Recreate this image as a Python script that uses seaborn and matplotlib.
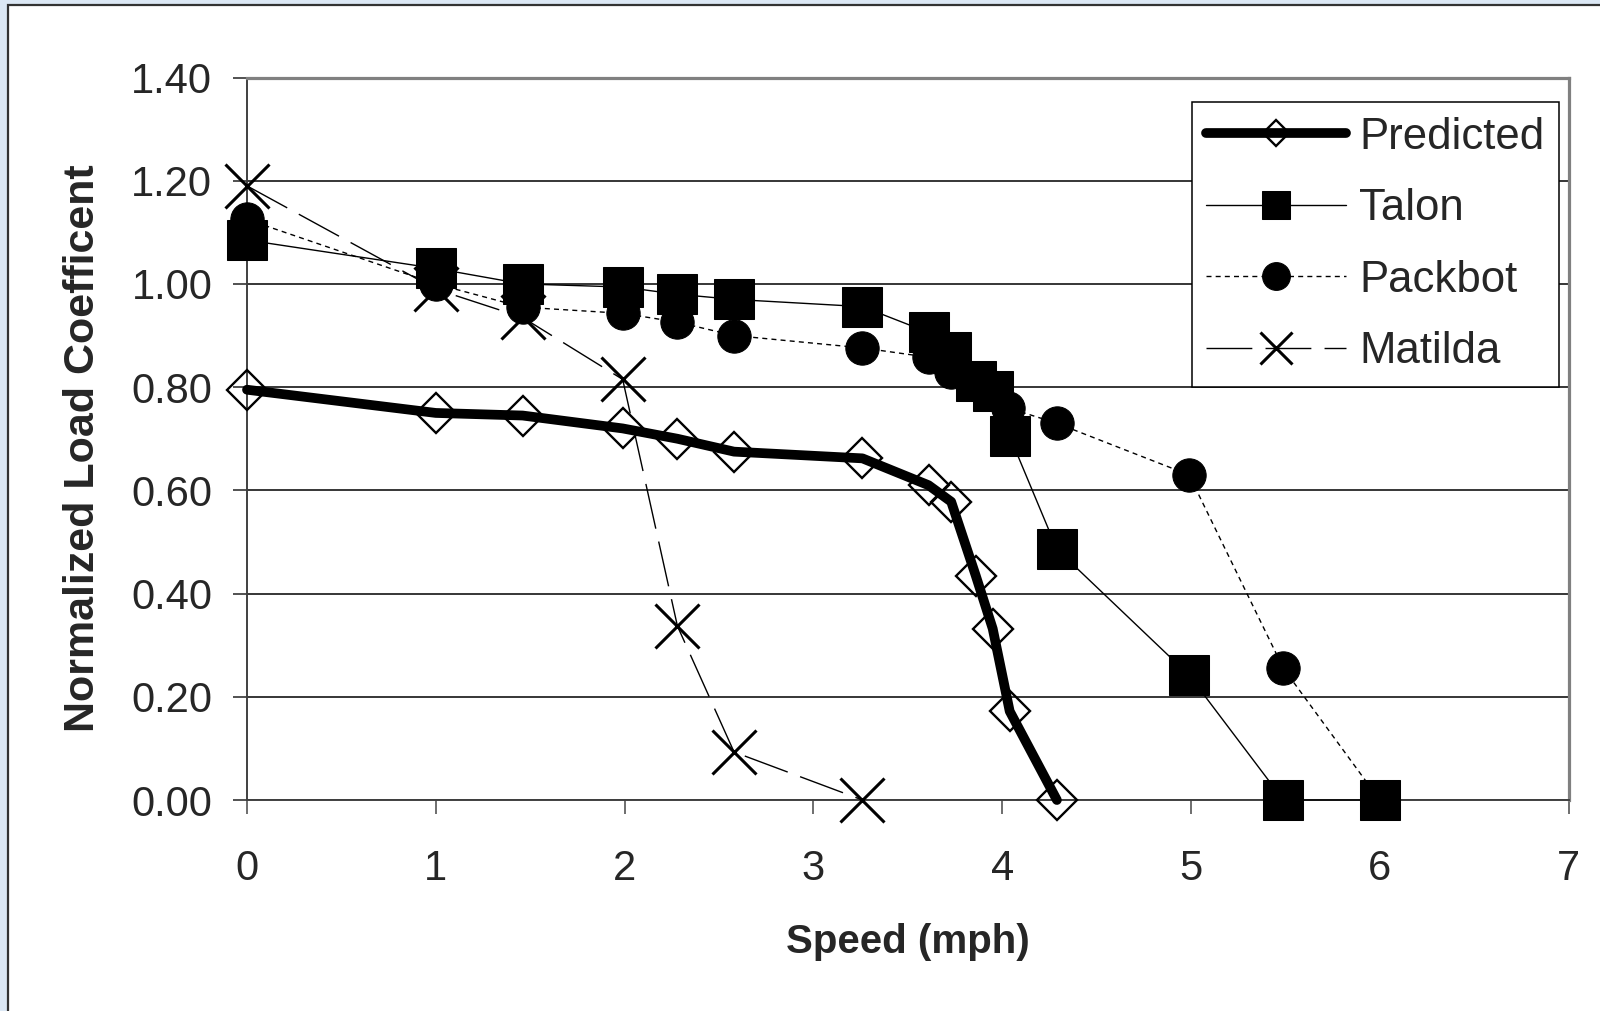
import matplotlib
matplotlib.use("Agg")
import matplotlib.pyplot as plt
from matplotlib.patches import Rectangle
import seaborn as sns

# speed (mph) and normalized load coefficient
speed_pred = [0, 1.0, 1.46, 1.99, 2.28, 2.58, 3.26, 3.61, 3.73, 3.86, 3.95, 4.04, 4.29]
load_pred = [0.795, 0.75, 0.745, 0.72, 0.70, 0.675, 0.662, 0.61, 0.578, 0.435, 0.332, 0.172, 0.0]

speed_talon = [0, 1.0, 1.46, 1.99, 2.28, 2.58, 3.26, 3.61, 3.73, 3.86, 3.95, 4.04, 4.29, 4.99, 5.49, 6.0]
load_talon = [1.085, 1.03, 1.0, 0.994, 0.98, 0.97, 0.956, 0.906, 0.868, 0.812, 0.792, 0.705, 0.486, 0.242, 0.0, 0.0]

speed_packbot = [0, 1.0, 1.46, 1.99, 2.28, 2.58, 3.26, 3.61, 3.73, 4.03, 4.29, 4.99, 5.49, 6.0]
load_packbot = [1.125, 1.0, 0.955, 0.943, 0.926, 0.90, 0.876, 0.858, 0.83, 0.76, 0.73, 0.63, 0.255, 0.0]

speed_matilda = [0, 1.0, 1.46, 1.99, 2.28, 2.58, 3.26]
load_matilda = [1.19, 0.99, 0.935, 0.815, 0.337, 0.093, 0.0]

series_names = ["Predicted", "Talon", "Packbot", "Matilda"]
y_ticks = [0, 0.2, 0.4, 0.6, 0.8, 1.0, 1.2, 1.4]
x_ticks = [0, 1, 2, 3, 4, 5, 6, 7]

sns.set_style("white")
plt.rcParams['font.family'] = ['Liberation Sans', 'DejaVu Sans']

fig = plt.figure(figsize=(16, 10.11), dpi=100)
fig.patch.set_facecolor('#dce8f5')
# white chart panel with dark border (top / left visible)
fig.add_artist(Rectangle((8 / 1600, -0.05), 1.1, 1 - 5 / 1011 + 0.05, transform=fig.transFigure,
                         facecolor='white', edgecolor='#333333', linewidth=1.6, zorder=0))

ax = fig.add_axes([247 / 1600, 1 - 800 / 1011, 1321.5 / 1600, 722.5 / 1011])
ax.set_facecolor('white')

common = dict(estimator=None, sort=False, errorbar=None, clip_on=False, color='black', ax=ax)

sns.lineplot(x=speed_pred, y=load_pred, label=series_names[0], linewidth=7,
             marker='D', markersize=20, markerfacecolor='none', markeredgecolor='black',
             markeredgewidth=1.7, solid_capstyle='round', zorder=3, **common)
sns.lineplot(x=speed_talon, y=load_talon, label=series_names[1], linewidth=1.0,
             marker='s', markersize=28.5, markeredgecolor='black', zorder=5, **common)
sns.lineplot(x=speed_packbot, y=load_packbot, label=series_names[2], linewidth=1.0,
             linestyle=(0, (3.6, 3)), marker='o', markersize=24, markeredgecolor='black',
             zorder=4, **common)
sns.lineplot(x=speed_matilda, y=load_matilda, label=series_names[3], linewidth=1.0,
             linestyle=(0, (33, 9.5)), marker='x', markersize=31, markeredgewidth=2.2,
             markeredgecolor='black', zorder=4, **common)

ax.set_xlim(0, 7)
ax.set_ylim(0, 1.4)
ax.set_xticks(x_ticks)
ax.set_yticks(y_ticks)
ax.set_yticklabels([f"{v:.2f}" for v in y_ticks])
ax.set_xticklabels([str(v) for v in x_ticks])
ax.tick_params(axis='y', direction='out', length=10, width=1.2, color='#333333', pad=15,
               labelsize=30, left=True)
ax.tick_params(axis='x', direction='out', length=10, width=1.2, color='#555555', pad=25,
               labelsize=30, bottom=True)

ax.grid(axis='y', color='black', linewidth=1.1)
ax.grid(axis='x', visible=False)
ax.set_axisbelow(True)

for side in ['left', 'bottom']:
    ax.spines[side].set_color('#404040')
    ax.spines[side].set_linewidth(1.4)
for side in ['top', 'right']:
    ax.spines[side].set_color('#808080')
    ax.spines[side].set_linewidth(2.3)

ax.set_xlabel('Speed (mph)', fontsize=29, fontweight='bold', va='center')
ax.xaxis.set_label_coords(0.5, -0.197)
ax.set_ylabel('Normalized Load Coefficent', fontsize=31, fontweight='bold', va='center')
ax.yaxis.set_label_coords(-0.124, 0.487)

leg = ax.legend(loc='upper right', bbox_to_anchor=(0.9928, 0.966), borderaxespad=0,
                fontsize=31.5, frameon=True, fancybox=False, framealpha=1,
                edgecolor='black', handlelength=3.2, handletextpad=0.3,
                borderpad=0.33, labelspacing=0.7)
leg.get_frame().set_linewidth(1.1)
leg.set_zorder(10)
legend_sizes = [13, 19.5, 20, 23]
for h, s in zip(leg.legend_handles, legend_sizes):
    h.set_markersize(s)

fig.savefig('out.png', dpi=100, facecolor=fig.get_facecolor())
